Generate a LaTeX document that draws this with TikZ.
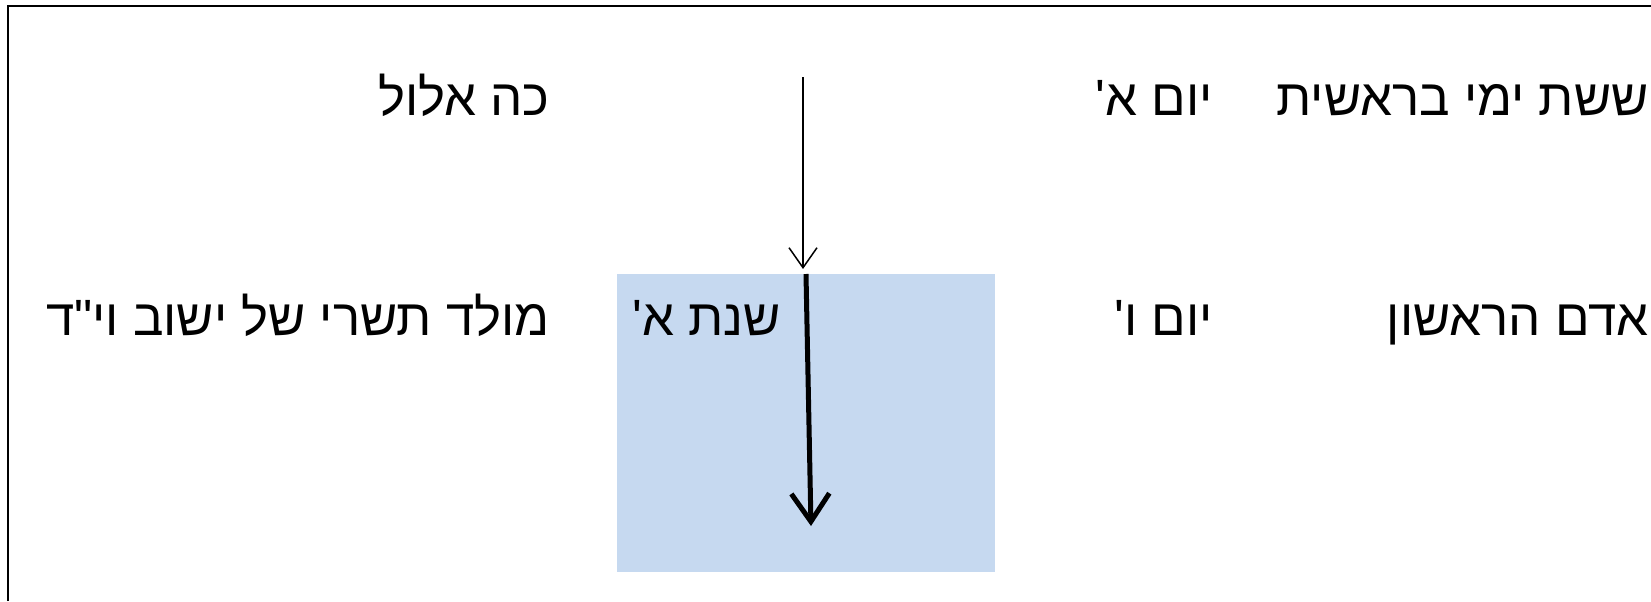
\documentclass[tikz,border=0pt]{standalone}
\usepackage{fontspec}
\usetikzlibrary{arrows.meta}
\TeXXeTstate=1
\newfontfamily\heb[Script=Hebrew]{Liberation Sans}
\definecolor{boxblue}{RGB}{198,217,240}
\tikzset{
  lbl/.style={anchor=base east, inner sep=0pt, font=\heb\fontsize{25.5}{29}\selectfont},
  frame/.style={line width=1pt, black},
}
\begin{document}
\begin{tikzpicture}[x=0.5pt,y=-0.5pt]
\useasboundingbox (0,0) rectangle (1651,601);
\fill[boxblue] (617,274) rectangle (995,572);
\draw[frame] (8,601) -- (8,6) -- (1651,6);
\node[lbl] (n1) at (1649,115) {\beginR ששת ימי בראשית\endR};
\node[lbl] (n2) at (1213,115) {\beginR יום א'\endR};
\node[lbl] (n3) at (550,115) {\beginR כה אלול\endR};
\node[lbl] (n4) at (1649,335) {\beginR אדם הראשון\endR};
\node[lbl] (n5) at (1213,335) {\beginR יום ו'\endR};
\node[lbl] (n6) at (781,335) {\beginR שנת א'\endR};
\node[lbl] (n7) at (550,335) {\beginR מולד תשרי של ישוב וי"ד\endR};
\coordinate (a1) at (803,77);
\coordinate (a2) at (803,269);
\coordinate (b1) at (806,274);
\coordinate (b2) at (811,526);
\draw[line width=0.75pt, -{Straight Barb[length=10pt,width=14pt]}] (a1) -- (a2);
\draw[line width=2.5pt, -{Straight Barb[length=14pt,width=19pt]}] (b1) -- (b2);
\end{tikzpicture}
\end{document}
